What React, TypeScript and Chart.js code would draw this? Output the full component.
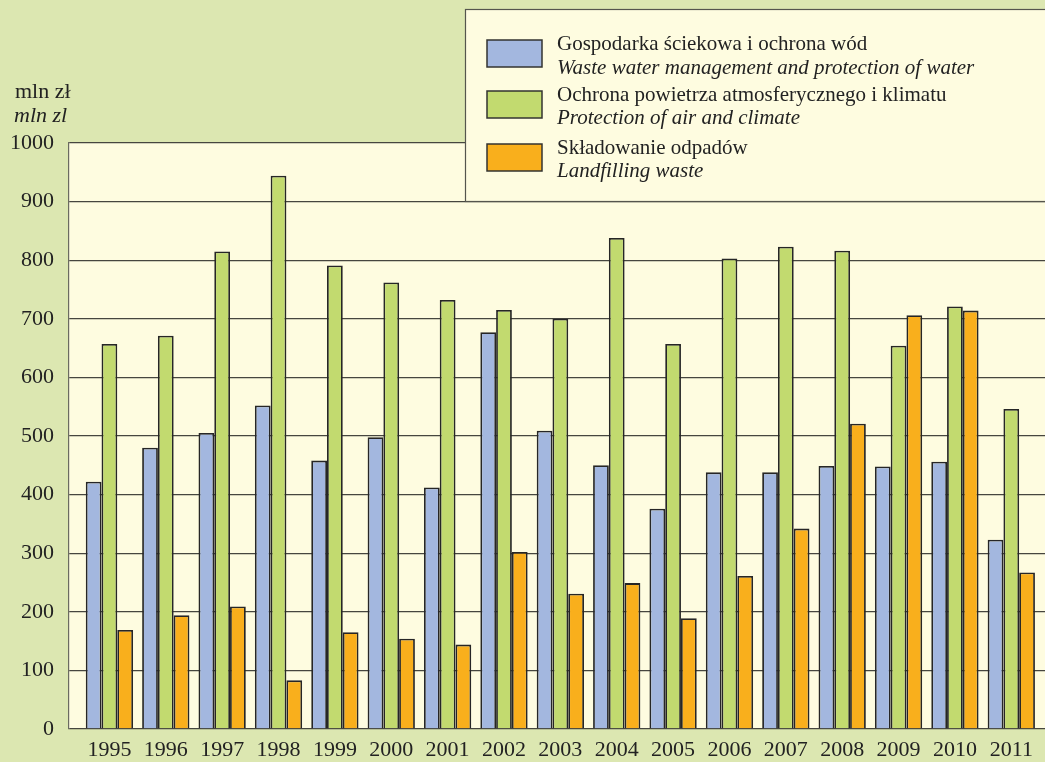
import React, { useEffect, useRef } from 'react';
import { Chart, registerables } from 'chart.js';

Chart.register(...registerables);

const years = ['1995', '1996', '1997', '1998', '1999', '2000', '2001', '2002', '2003', '2004', '2005', '2006', '2007', '2008', '2009', '2010', '2011'];
const waterValues = [422, 480, 505, 552, 458, 498, 412, 677, 509, 450, 376, 438, 438, 449, 448, 456, 323];
const airValues = [657, 671, 815, 944, 791, 762, 732, 715, 700, 838, 657, 803, 823, 816, 654, 721, 546];
const wasteValues = [169, 194, 209, 83, 165, 154, 144, 302, 231, 249, 189, 261, 342, 521, 706, 714, 267];
const yTickValues = [0, 100, 200, 300, 400, 500, 600, 700, 800, 900, 1000];
const seriesPl = ['Gospodarka ściekowa i ochrona wód', 'Ochrona powietrza atmosferycznego i klimatu', 'Składowanie odpadów'];
const seriesEn = ['Waste water management and protection of water', 'Protection of air and climate', 'Landfilling waste'];
const unitPl = 'mln zł';
const unitEn = 'mln zl';

const colors = ['#a3b7df', '#c2da6f', '#f9af1c'];
const FONT = '"Liberation Serif", "Times New Roman", serif';
const TEXT = '#222222';

const decorPlugin = {
  id: 'decor',
  beforeDraw(chart: any) {
    const { ctx, chartArea } = chart;
    ctx.save();
    ctx.fillStyle = '#fefce0';
    ctx.fillRect(chartArea.left, chartArea.top, chartArea.right - chartArea.left, chartArea.bottom - chartArea.top);
    ctx.restore();
  },
  afterDraw(chart: any) {
    const { ctx } = chart;
    ctx.save();
    // unit title
    ctx.fillStyle = TEXT;
    ctx.textAlign = 'left';
    ctx.textBaseline = 'alphabetic';
    ctx.font = `22px ${FONT}`;
    ctx.fillText(unitPl, 15, 98);
    ctx.font = `italic 22px ${FONT}`;
    ctx.fillText(unitEn, 14, 121.5);

    // legend box
    ctx.fillStyle = '#fefce0';
    ctx.fillRect(465.5, 9.5, 600, 192);
    ctx.strokeStyle = '#55554d';
    ctx.lineWidth = 1.2;
    ctx.strokeRect(465.5, 9.5, 600, 192);

    const boxY = [40, 91, 144];
    const plY = [50, 101, 154];
    const enY = [74, 124, 176.5];
    for (let i = 0; i < 3; i++) {
      ctx.fillStyle = colors[i];
      ctx.fillRect(487, boxY[i], 55, 27);
      ctx.strokeStyle = '#333330';
      ctx.lineWidth = 1.5;
      ctx.strokeRect(487, boxY[i], 55, 27);
      ctx.fillStyle = TEXT;
      ctx.font = `21px ${FONT}`;
      ctx.fillText(seriesPl[i], 557, plY[i]);
      ctx.font = `italic 21px ${FONT}`;
      ctx.fillText(seriesEn[i], 557, enY[i]);
    }
    ctx.restore();
  },
};

export default function App() {
  const ref = useRef<HTMLCanvasElement | null>(null);

  useEffect(() => {
    if (!ref.current) return;
    const mk = (vals: number[]) => vals.map((v, i) => ({ x: i, y: v }));
    const chart = new Chart(ref.current, {
      type: 'bar',
      data: {
        datasets: [
          { label: seriesPl[0], data: mk(waterValues), backgroundColor: colors[0], borderColor: '#262626', borderWidth: 1.8 },
          { label: seriesPl[1], data: mk(airValues), backgroundColor: colors[1], borderColor: '#262626', borderWidth: 1.8 },
          { label: seriesPl[2], data: mk(wasteValues), backgroundColor: colors[2], borderColor: '#262626', borderWidth: 1.8 },
        ] as any,
      },
      plugins: [decorPlugin],
      options: {
        animation: false,
        responsive: true,
        maintainAspectRatio: false,
        layout: { padding: { left: 0, right: 0, top: 143, bottom: 0 } },
        datasets: { bar: { categoryPercentage: 0.839, barPercentage: 1 } },
        plugins: { legend: { display: false }, tooltip: { enabled: false } },
        scales: {
          x: {
            type: 'linear',
            offset: false,
            min: -0.717,
            max: 16.598,
            afterBuildTicks: (scale: any) => {
              scale.ticks = years.map((_, i) => ({ value: i }));
            },
            afterFit: (scale: any) => {
              scale.height = 33;
            },
            grid: { display: false, drawTicks: false, offset: false },
            border: { display: false },
            ticks: {
              padding: 8,
              color: TEXT,
              font: { family: FONT, size: 22 },
              maxRotation: 0,
              autoSkip: false,
              callback: (v: any) => years[Math.round(Number(v))] ?? '',
            },
          },
          y: {
            min: 0,
            max: 1000,
            afterBuildTicks: (scale: any) => {
              scale.ticks = yTickValues.map((v) => ({ value: v }));
            },
            afterFit: (scale: any) => {
              scale.width = 69;
            },
            grid: { color: '#46463f', lineWidth: 1.3, drawTicks: false },
            border: { display: true, color: '#6a6a60', width: 1.2 },
            ticks: {
              padding: 15,
              color: TEXT,
              font: { family: FONT, size: 22 },
              callback: (v: any) => String(v),
            },
          },
        },
      } as any,
    });
    return () => chart.destroy();
  }, []);

  return (
    <div style={{ position: 'fixed', left: 0, top: 0, width: 1045, height: 762, background: '#dce7b1' }}>
      <canvas ref={ref} />
    </div>
  );
}
